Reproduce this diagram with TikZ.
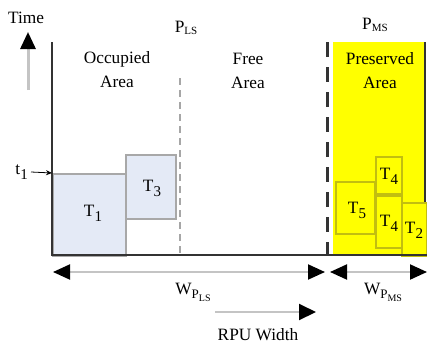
\documentclass[tikz,border=0pt]{standalone}
\usepackage{fontspec}
\setmainfont{Liberation Serif}
\usetikzlibrary{arrows.meta}
\definecolor{axisc}{HTML}{333333}
\definecolor{bluef}{HTML}{E4EAF6}
\definecolor{blued}{HTML}{A8A8A8}
\definecolor{yel}{HTML}{FFFF00}
\definecolor{yeld}{HTML}{C2BE10}
\definecolor{shaft}{HTML}{C4C4C4}
\newcommand{\lowsub}[1]{\raisebox{-5pt}{\fontsize{15}{15}\selectfont #1}}
\newcommand{\wsub}[1]{\raisebox{-4pt}{\fontsize{13}{13}\selectfont P\raisebox{-3pt}{\fontsize{10}{10}\selectfont #1}}}
\newcommand{\psub}[1]{\raisebox{-2pt}{\fontsize{11}{11}\selectfont #1}}
\tikzset{
  lbl/.style={font=\fontsize{17.3}{24}\selectfont, inner sep=0pt, align=center},
  bluebox/.style={draw=blued, fill=bluef, line width=1.5pt, anchor=north west, inner sep=0pt},
  yelbox/.style={draw=yeld, fill=yel, line width=1.5pt, anchor=north west, inner sep=0pt},
  dimarrow/.style={draw=shaft, line width=2pt, {Triangle[length=17pt,width=15pt,color=black]}-{Triangle[length=17pt,width=15pt,color=black]}},
  onearrow/.style={draw=shaft, line width=2pt, -{Triangle[length=17pt,width=16pt,color=black]}},
}
\begin{document}
\begin{tikzpicture}[x=1pt,y=-1pt]
\useasboundingbox (0,0) rectangle (427,345);
% yellow preserved area
\fill[yel] (333,42) rectangle (425,255);
\draw[axisc, line width=2pt] (425,42) -- (425,255);
% boxes
\node[bluebox, minimum width=73pt, minimum height=82pt] (T1) at (52,173) {};
\node[bluebox, minimum width=50pt, minimum height=64pt] (T3) at (125,154) {};
\node[lbl] at (93,213) {T\lowsub{1}};
\node[lbl] at (152,188) {T\lowsub{3}};
\node[yelbox, minimum width=39pt, minimum height=52pt] (T5) at (335,181) {};
\node[yelbox, minimum width=26pt, minimum height=37pt] (T4a) at (375,156) {};
\node[yelbox, minimum width=26pt, minimum height=52pt] (T4b) at (375,195) {};
\node[yelbox, minimum width=25pt, minimum height=53pt] (T2) at (401,202) {};
\node[lbl] at (357,210) {T\lowsub{5}};
\node[lbl] at (389,176) {T\lowsub{4}};
\node[lbl] at (389,223) {T\lowsub{4}};
\node[lbl] at (414,230) {T\lowsub{2}};
% dashed separators
\draw[gray!70, line width=1.3pt, dash pattern=on 7pt off 5pt] (180,78) -- (180,255);
\draw[axisc, line width=3pt, dash pattern=on 15pt off 10pt] (327,42) -- (327,255);
% axes
\coordinate (O) at (52,255);
\coordinate (Ytop) at (52,42);
\coordinate (Xend) at (427,255);
\draw[axisc, line width=2.5pt] (Ytop) -- (O) -- (Xend);
% time arrow
\coordinate (ta) at (28,90);
\coordinate (tb) at (28,32);
\draw[draw=shaft, line width=3pt, -{Triangle[length=17pt,width=15pt,color=black]}] (ta) -- (tb);
\node[lbl] (time) at (26,18) {Time};
% t1 marker
\node[lbl, anchor=east] (t1) at (28,172) {t\lowsub{1}};
\coordinate (t1e) at (52,173);
\draw[line width=0.8pt, -{Stealth[length=6pt,width=5pt]}] (t1.east) ++(3pt,0pt) -- (t1e);
% region labels
\node[lbl] (pls) at (186,28) {P\psub{LS}};
\node[lbl] (pms) at (375,25) {P\psub{MS}};
\node[lbl] (occ) at (117,70) {Occupied\\Area};
\node[lbl] (free) at (248,71) {Free\\Area};
\node[lbl] (pres) at (380,71) {Preserved\\Area};
% width arrows
\coordinate (wl1) at (53,272);
\coordinate (wl2) at (325,272);
\coordinate (wr1) at (330,272);
\coordinate (wr2) at (427,272);
\draw[dimarrow] (wl1) -- (wl2);
\draw[dimarrow] (wr1) -- (wr2);
\node[lbl] (wpls) at (193,292) {W\wsub{LS}};
\node[lbl] (wpms) at (383,292) {W\wsub{MS}};
\coordinate (r1) at (215,312);
\coordinate (r2) at (316,312);
\draw[onearrow] (r1) -- (r2);
\node[lbl] (rpu) at (258,335) {RPU Width};
\end{tikzpicture}
\end{document}
